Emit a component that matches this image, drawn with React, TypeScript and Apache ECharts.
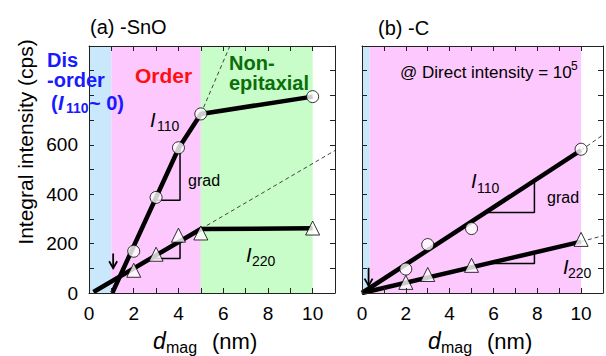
import React, { useEffect, useRef } from "react";
import * as echarts from "echarts";

// ---- (a) -SnO panel ----
const aDist = [2, 3, 4, 5, 10];
const aI110 = [169, 387, 588, 725, 795];
const aI220 = [92, 157, 234, 243, 263];
const aFit110 = [[1.04, 0], [4.02, 588], [5, 725], [10, 795]];
const aExt110 = [[5, 725], [6.3, 1000]];
const aFit220 = [[0.2, 4], [5, 259], [10, 262]];
const aExt220 = [[5, 259], [11, 577]];
const aGrad110 = [[2.95, 376], [4.07, 376], [4.07, 590]];
const aGrad220 = [[2.76, 140], [4.07, 140], [4.07, 210]];
const aZones = [0, 1, 5, 10]; // disorder | order | non-epitaxial
const aArrow = [1.08, 160, 100];

// ---- (b) -C panel ----
const bDist = [2, 3, 5, 10];
const bI110 = [97, 196, 261, 582];
const bI220 = [43, 75, 112, 217];
const bFit110 = [[0, 0], [10, 578]];
const bExt110 = [[10, 578], [11, 640]];
const bFit220 = [[0, 0], [10, 208]];
const bExt220 = [[10, 208], [11, 232]];
const bGrad110 = [[5.64, 326], [7.87, 326], [7.87, 455]];
const bGrad220 = [[5.72, 119], [7.87, 119], [7.87, 164]];
const bZones = [0, 0.35, 10]; // disorder | order
const bArrow = [0.3, 102, 30];

// axis ticks / labels
const xMax = 11;
const yMax = 1000;
const xLabels = [0, 2, 4, 6, 8, 10];
const yLabels = [0, 200, 400, 600];

const FONT = "'Liberation Sans', Arial, Helvetica, sans-serif";
const ZONE_COLORS = ["#c9e8fb", "#fdc8fd", "#c8fcc8"];

function txt(text: string, x: number, y: number, o: any = {}) {
  return {
    type: "text",
    x,
    y,
    rotation: o.rotation || 0,
    z: 100,
    style: {
      text,
      fontFamily: FONT,
      fontSize: o.size || 20,
      fontWeight: o.weight || "normal",
      fontStyle: o.italic ? "italic" : "normal",
      fill: o.color || "#000",
      align: o.align || "left",
      verticalAlign: "middle",
      textAlign: o.align || "left",
      textVerticalAlign: "middle",
    },
  };
}

function xAxis(gi: number, pos: string, labels: boolean) {
  return {
    type: "value",
    gridIndex: gi,
    position: pos,
    min: 0,
    max: xMax,
    interval: 1,
    z: 10,
    axisLine: { show: true, onZero: false, lineStyle: { color: "#222", width: 1 } },
    axisTick: { show: true, inside: true, length: 5, lineStyle: { color: "#222" } },
    splitLine: { show: false },
    axisLabel: {
      show: labels,
      margin: 11,
      fontSize: 19,
      color: "#000",
      fontFamily: FONT,
      showMinLabel: true,
      showMaxLabel: true,
      formatter: (v: number) => (xLabels.includes(v) ? String(v) : ""),
    },
  };
}

function yAxis(gi: number, pos: string, labels: boolean) {
  return {
    type: "value",
    gridIndex: gi,
    position: pos,
    min: 0,
    max: yMax,
    interval: 100,
    z: 10,
    axisLine: { show: true, onZero: false, lineStyle: { color: "#222", width: 1 } },
    axisTick: { show: true, inside: true, length: 5, lineStyle: { color: "#222" } },
    splitLine: { show: false },
    axisLabel: {
      show: labels,
      margin: 11,
      fontSize: 19,
      color: "#000",
      fontFamily: FONT,
      formatter: (v: number) => (yLabels.includes(v) ? String(v) : ""),
    },
  };
}

function zoneSeries(ax: number, zones: number[]) {
  const areas = [];
  for (let i = 0; i < zones.length - 1; i++) {
    areas.push([
      { xAxis: zones[i], itemStyle: { color: ZONE_COLORS[i] } },
      { xAxis: zones[i + 1] },
    ]);
  }
  return {
    type: "line",
    xAxisIndex: ax,
    yAxisIndex: ax,
    data: [],
    z: 1,
    markArea: { silent: true, data: areas },
  };
}

function lineSeries(ax: number, data: number[][], width: number, dashed = false) {
  return {
    type: "line",
    xAxisIndex: ax,
    yAxisIndex: ax,
    data,
    symbol: "none",
    z: dashed ? 2 : 3,
    lineStyle: {
      color: dashed ? "#444" : "#000",
      width,
      type: dashed ? [4, 3] : "solid",
    },
  };
}

function markerSeries(ax: number, xs: number[], ys: number[], symbol: string, size: number) {
  return {
    type: "scatter",
    xAxisIndex: ax,
    yAxisIndex: ax,
    data: xs.map((x, i) => [x, ys[i]]),
    symbol,
    symbolSize: size,
    z: 5,
    itemStyle: { color: "#fff", borderColor: "#000", borderWidth: 1 },
  };
}

function arrowSeries(ax: number, arrow: number[]) {
  return {
    type: "custom",
    xAxisIndex: ax,
    yAxisIndex: ax,
    z: 6,
    data: [arrow],
    encode: { x: 0, y: [1, 2] },
    renderItem: (_p: any, api: any) => {
      const top = api.coord([api.value(0), api.value(1)]);
      const bot = api.coord([api.value(0), api.value(2)]);
      return {
        type: "group",
        children: [
          {
            type: "line",
            shape: { x1: top[0], y1: top[1], x2: bot[0], y2: bot[1] },
            style: { stroke: "#000", lineWidth: 1.8 },
          },
          {
            type: "polyline",
            shape: { points: [[bot[0] - 4, bot[1] - 7], [bot[0], bot[1]], [bot[0] + 4, bot[1] - 7]] },
            style: { stroke: "#000", lineWidth: 1.8, fill: null },
          },
        ],
      };
    },
  };
}

export default function App() {
  const ref = useRef<HTMLDivElement>(null);

  useEffect(() => {
    if (!ref.current) return;
    const chart = echarts.init(ref.current, null, { renderer: "svg" });
    const blue = "#1a1aff";
    const red = "#ff1010";
    const green = "#0a6e0a";

    chart.setOption({
      animation: false,
      backgroundColor: "#fff",
      grid: [
        { left: 89, top: 46, width: 246, height: 247 },
        { left: 362, top: 46, width: 246, height: 247 },
      ],
      xAxis: [xAxis(0, "bottom", true), xAxis(1, "bottom", true), xAxis(0, "top", false), xAxis(1, "top", false)],
      yAxis: [yAxis(0, "left", true), yAxis(1, "left", false), yAxis(0, "right", false), yAxis(1, "right", false)],
      series: [
        zoneSeries(0, aZones),
        lineSeries(0, aExt110, 1, true),
        lineSeries(0, aExt220, 1, true),
        lineSeries(0, aGrad110, 1.5),
        lineSeries(0, aGrad220, 1.5),
        lineSeries(0, aFit110, 4.5),
        lineSeries(0, aFit220, 4.5),
        markerSeries(0, aDist, aI110, "circle", 12),
        markerSeries(0, aDist, aI220, "triangle", 14),
        arrowSeries(0, aArrow),

        zoneSeries(1, bZones),
        lineSeries(1, bExt110, 1, true),
        lineSeries(1, bExt220, 1, true),
        lineSeries(1, bGrad110, 1.5),
        lineSeries(1, bGrad220, 1.5),
        lineSeries(1, bFit110, 4.5),
        lineSeries(1, bFit220, 4.5),
        markerSeries(1, bDist, bI110, "circle", 12),
        markerSeries(1, bDist, bI220, "triangle", 14),
        arrowSeries(1, bArrow),
      ],
      graphic: [
        // panel titles
        txt("(a) -SnO", 90, 27),
        txt("(b) -C", 378, 28),
        // y-axis title
        txt("Integral intensity (cps)", 25, 142, { rotation: Math.PI / 2, align: "center", size: 21 }),
        // x-axis titles
        txt("d", 153, 341, { italic: true, size: 23 }),
        txt("mag", 166, 347, { size: 16 }),
        txt("(nm)", 212, 341, { size: 22 }),
        txt("d", 428, 341, { italic: true, size: 23 }),
        txt("mag", 441, 347, { size: 16 }),
        txt("(nm)", 487, 341, { size: 22 }),
        // region labels, panel (a)
        txt("Dis", 47, 60, { weight: "bold", color: blue }),
        txt("-order", 47, 80, { weight: "bold", color: blue }),
        txt("(", 51, 103, { weight: "bold", color: blue }),
        txt("I", 58, 103, { weight: "bold", italic: true, color: blue }),
        txt("110", 66, 108, { weight: "bold", size: 14, color: blue }),
        txt("~ 0)", 89, 103, { weight: "bold", color: blue }),
        txt("Order", 135, 75, { weight: "bold", color: red, size: 21 }),
        txt("Non-", 229, 63, { weight: "bold", color: green }),
        txt("epitaxial", 229, 83, { weight: "bold", color: green }),
        // curve labels, panel (a)
        txt("I", 150, 120, { italic: true, size: 20 }),
        txt("110", 157, 126, { size: 14 }),
        txt("I", 246, 255, { italic: true, size: 20 }),
        txt("220", 252, 261, { size: 14 }),
        txt("grad", 188, 180, { size: 16 }),
        // panel (b)
        txt("@ Direct intensity = 10", 400, 72, { size: 17 }),
        txt("5", 571, 66, { size: 12 }),
        txt("I", 471, 181, { italic: true, size: 20 }),
        txt("110", 477, 188, { size: 14 }),
        txt("I", 563, 267, { italic: true, size: 20 }),
        txt("220", 568, 273, { size: 14 }),
        txt("grad", 547, 197, { size: 16 }),
      ],
    });

    return () => chart.dispose();
  }, []);

  return (
    <div
      ref={ref}
      style={{ position: "fixed", left: 0, top: 0, width: 606, height: 356, background: "#fff" }}
    />
  );
}
